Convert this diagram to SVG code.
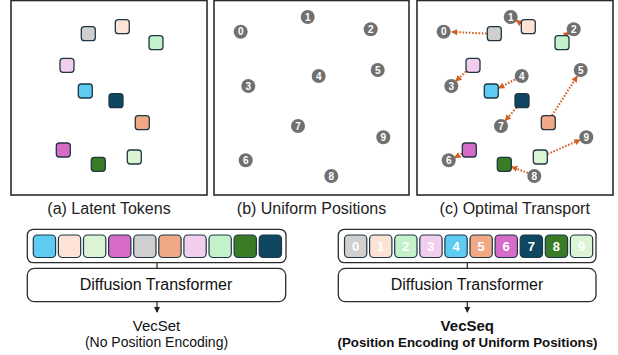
<svg xmlns="http://www.w3.org/2000/svg" width="618" height="355" viewBox="0 0 618 355">
<style>
.frame{fill:#fff;stroke:#2b2b2b;stroke-width:1.6}
.tk{stroke:#1f3644;stroke-width:1.3}
.c{fill:#707070}
.n{font-family:"Liberation Sans",Arial,sans-serif;font-weight:bold;font-size:10px;fill:#fff;text-anchor:middle}
.cap{font-family:"Liberation Sans",Arial,sans-serif;font-size:16px;fill:#222;text-anchor:middle}
.lbl{font-family:"Liberation Sans",Arial,sans-serif;fill:#111;text-anchor:middle}
.box{fill:#fff;stroke:#2b2b2b;stroke-width:1.3}
.bt{stroke:#1f3644;stroke-width:1.2}
.bn{font-family:"Liberation Sans",Arial,sans-serif;font-weight:bold;font-size:13px;fill:#fff;text-anchor:middle}
.ot{fill:none;stroke:#D2601F;stroke-width:2;stroke-dasharray:1.6 1.6}
.ln{stroke:#222;stroke-width:1.2;fill:none}
.gray{fill:#CFCFCF}.peach{fill:#FCE3D6}.lgreen{fill:#C3F1C9}.lpink{fill:#F2CEEE}.blue{fill:#5DCBF2}.orange{fill:#F1A985}.mag{fill:#D66CC8}.navy{fill:#0F4662}.dgreen{fill:#3A7B25}.pgreen{fill:#DBF4D3}
</style>
<defs>
<marker id="ah" viewBox="0 0 6 6" refX="5" refY="3" markerWidth="3.2" markerHeight="3.2" orient="auto" markerUnits="strokeWidth">
<path d="M0,0 L6,3 L0,6 z" fill="#D2601F"/>
</marker>
<marker id="ak" viewBox="0 0 6 6" refX="5" refY="3" markerWidth="5" markerHeight="5" orient="auto" markerUnits="strokeWidth">
<path d="M0,0 L6,3 L0,6 z" fill="#222"/>
</marker>
</defs>

<!-- Panel (a) -->
<g id="panel-a">
<rect class="frame" x="11" y="0.5" width="196" height="194.5"/>
<rect class="tk gray" x="81.3" y="26.7" width="14" height="14" rx="3"/>
<rect class="tk peach" x="115.3" y="19.7" width="14" height="14" rx="3"/>
<rect class="tk lgreen" x="149" y="35.7" width="14" height="14" rx="3"/>
<rect class="tk lpink" x="60" y="58.3" width="14" height="14" rx="3"/>
<rect class="tk blue" x="78.3" y="84" width="14" height="14" rx="3"/>
<rect class="tk navy" x="109" y="93.7" width="14" height="14" rx="3"/>
<rect class="tk orange" x="135.3" y="115.7" width="14" height="14" rx="3"/>
<rect class="tk mag" x="56.3" y="143" width="14" height="14" rx="3"/>
<rect class="tk dgreen" x="91.3" y="157.3" width="14" height="14" rx="3"/>
<rect class="tk pgreen" x="127.3" y="150" width="14" height="14" rx="3"/>
<text class="cap" x="109" y="213.5">(a) Latent Tokens</text>
</g>

<!-- Panel (b) -->
<g id="panel-b">
<rect class="frame" x="214" y="0.5" width="195" height="194.5"/>
<circle class="c" cx="240.7" cy="31.7" r="7"/><text class="n" x="240.7" y="35.3">0</text>
<circle class="c" cx="307.7" cy="17" r="7"/><text class="n" x="307.7" y="20.6">1</text>
<circle class="c" cx="370.7" cy="29.3" r="7"/><text class="n" x="370.7" y="32.9">2</text>
<circle class="c" cx="248.3" cy="86" r="7"/><text class="n" x="248.3" y="89.6">3</text>
<circle class="c" cx="318.7" cy="76" r="7"/><text class="n" x="318.7" y="79.6">4</text>
<circle class="c" cx="377.7" cy="70" r="7"/><text class="n" x="377.7" y="73.6">5</text>
<circle class="c" cx="245.7" cy="160.3" r="7"/><text class="n" x="245.7" y="163.9">6</text>
<circle class="c" cx="298" cy="126" r="7"/><text class="n" x="298" y="129.6">7</text>
<circle class="c" cx="331.3" cy="176" r="7"/><text class="n" x="331.3" y="179.6">8</text>
<circle class="c" cx="383.3" cy="137.3" r="7"/><text class="n" x="383.3" y="140.9">9</text>
<text class="cap" x="311.5" y="213.5">(b) Uniform Positions</text>
</g>

<!-- Panel (c) -->
<g id="panel-c">
<rect class="frame" x="417" y="0.5" width="196" height="194.5"/>
<g id="ot-arrows">
<line class="ot" x1="486.5" y1="33.6" x2="452" y2="31.9" marker-end="url(#ah)"/>
<line class="ot" x1="521" y1="23.5" x2="516.5" y2="20.5" marker-end="url(#ah)"/>
<line class="ot" x1="565" y1="35.5" x2="569" y2="32.5" marker-end="url(#ah)"/>
<line class="ot" x1="466" y1="71.5" x2="456" y2="81" marker-end="url(#ah)"/>
<line class="ot" x1="515" y1="79.5" x2="499" y2="88" marker-end="url(#ah)"/>
<line class="ot" x1="552" y1="115.5" x2="577" y2="76.5" marker-end="url(#ah)"/>
<line class="ot" x1="462" y1="153.5" x2="455" y2="157.5" marker-end="url(#ah)"/>
<line class="ot" x1="516.5" y1="107.5" x2="505.5" y2="120.5" marker-end="url(#ah)"/>
<line class="ot" x1="528" y1="173" x2="512" y2="167" marker-end="url(#ah)"/>
<line class="ot" x1="547.5" y1="154" x2="580" y2="140" marker-end="url(#ah)"/>
</g>
<circle class="c" cx="443.7" cy="31.7" r="7"/><text class="n" x="443.7" y="35.3">0</text>
<circle class="c" cx="510.7" cy="17" r="7"/><text class="n" x="510.7" y="20.6">1</text>
<circle class="c" cx="573.7" cy="29.3" r="7"/><text class="n" x="573.7" y="32.9">2</text>
<circle class="c" cx="451.3" cy="86" r="7"/><text class="n" x="451.3" y="89.6">3</text>
<circle class="c" cx="521.7" cy="76" r="7"/><text class="n" x="521.7" y="79.6">4</text>
<circle class="c" cx="580.7" cy="70" r="7"/><text class="n" x="580.7" y="73.6">5</text>
<circle class="c" cx="448.7" cy="160.3" r="7"/><text class="n" x="448.7" y="163.9">6</text>
<circle class="c" cx="501" cy="126" r="7"/><text class="n" x="501" y="129.6">7</text>
<circle class="c" cx="534.3" cy="176" r="7"/><text class="n" x="534.3" y="179.6">8</text>
<circle class="c" cx="586.3" cy="137.3" r="7"/><text class="n" x="586.3" y="140.9">9</text>
<rect class="tk gray" x="487.3" y="26.7" width="14" height="14" rx="3"/>
<rect class="tk peach" x="521.3" y="19.7" width="14" height="14" rx="3"/>
<rect class="tk lgreen" x="555" y="35.7" width="14" height="14" rx="3"/>
<rect class="tk lpink" x="466" y="58.3" width="14" height="14" rx="3"/>
<rect class="tk blue" x="484.3" y="84" width="14" height="14" rx="3"/>
<rect class="tk navy" x="515" y="93.7" width="14" height="14" rx="3"/>
<rect class="tk orange" x="541.3" y="115.7" width="14" height="14" rx="3"/>
<rect class="tk mag" x="462.3" y="143" width="14" height="14" rx="3"/>
<rect class="tk dgreen" x="497.3" y="157.3" width="14" height="14" rx="3"/>
<rect class="tk pgreen" x="533.3" y="150" width="14" height="14" rx="3"/>
<text class="cap" x="514.7" y="213.5">(c) Optimal Transport</text>
</g>

<!-- Connectors -->
<g id="connectors">
<line class="ln" x1="157" y1="262.7" x2="157" y2="268.3"/>
<line class="ln" x1="157" y1="301.7" x2="157" y2="312" marker-end="url(#ak)"/>
<line class="ln" x1="467.3" y1="262.7" x2="467.3" y2="268.3"/>
<line class="ln" x1="467.3" y1="301.7" x2="467.3" y2="312" marker-end="url(#ak)"/>
</g>

<!-- Left: VecSet -->
<g id="vecset-tokens">
<rect class="box" x="27.3" y="229.3" width="258.7" height="33.4" rx="6"/>
<rect class="bt blue" x="33.3" y="235" width="22.3" height="22.5" rx="4"/>
<rect class="bt peach" x="58.4" y="235" width="22.3" height="22.5" rx="4"/>
<rect class="bt pgreen" x="83.5" y="235" width="22.3" height="22.5" rx="4"/>
<rect class="bt mag" x="108.6" y="235" width="22.3" height="22.5" rx="4"/>
<rect class="bt gray" x="133.7" y="235" width="22.3" height="22.5" rx="4"/>
<rect class="bt orange" x="158.8" y="235" width="22.3" height="22.5" rx="4"/>
<rect class="bt lpink" x="183.9" y="235" width="22.3" height="22.5" rx="4"/>
<rect class="bt lgreen" x="209" y="235" width="22.3" height="22.5" rx="4"/>
<rect class="bt dgreen" x="234.1" y="235" width="22.3" height="22.5" rx="4"/>
<rect class="bt navy" x="259.2" y="235" width="22.3" height="22.5" rx="4"/>
</g>
<g id="dit-left">
<rect class="box" x="27.3" y="268.3" width="258.4" height="33.4" rx="7"/>
<text class="lbl" x="156" y="290.3" font-size="16" fill="#333">Diffusion Transformer</text>
</g>
<g id="vecset-label">
<text class="lbl" x="156.5" y="331" font-size="15">VecSet</text>
<text class="lbl" x="156.5" y="347" font-size="14">(No Position Encoding)</text>
</g>

<!-- Right: VecSeq -->
<g id="vecseq-tokens">
<rect class="box" x="338.3" y="229.3" width="257.7" height="33.4" rx="6"/>
<rect class="bt gray" x="344.5" y="235" width="22.3" height="22.5" rx="4"/><text class="bn" x="355.6" y="251">0</text>
<rect class="bt peach" x="369.6" y="235" width="22.3" height="22.5" rx="4"/><text class="bn" x="380.7" y="251">1</text>
<rect class="bt lgreen" x="394.7" y="235" width="22.3" height="22.5" rx="4"/><text class="bn" x="405.8" y="251">2</text>
<rect class="bt lpink" x="419.8" y="235" width="22.3" height="22.5" rx="4"/><text class="bn" x="430.9" y="251">3</text>
<rect class="bt blue" x="444.9" y="235" width="22.3" height="22.5" rx="4"/><text class="bn" x="456" y="251">4</text>
<rect class="bt orange" x="470" y="235" width="22.3" height="22.5" rx="4"/><text class="bn" x="481.1" y="251">5</text>
<rect class="bt mag" x="495.1" y="235" width="22.3" height="22.5" rx="4"/><text class="bn" x="506.2" y="251">6</text>
<rect class="bt navy" x="520.2" y="235" width="22.3" height="22.5" rx="4"/><text class="bn" x="531.3" y="251">7</text>
<rect class="bt dgreen" x="545.3" y="235" width="22.3" height="22.5" rx="4"/><text class="bn" x="556.4" y="251">8</text>
<rect class="bt pgreen" x="570.4" y="235" width="22.3" height="22.5" rx="4"/><text class="bn" x="581.5" y="251">9</text>
</g>
<g id="dit-right">
<rect class="box" x="338.3" y="268.3" width="257.7" height="33.4" rx="7"/>
<text class="lbl" x="467" y="290.3" font-size="16" fill="#333">Diffusion Transformer</text>
</g>
<g id="vecseq-label">
<text class="lbl" x="467.3" y="331" font-size="15" font-weight="bold">VecSeq</text>
<text class="lbl" x="467.5" y="346.5" font-size="13.3" font-weight="bold">(Position Encoding of Uniform Positions)</text>
</g>
</svg>
